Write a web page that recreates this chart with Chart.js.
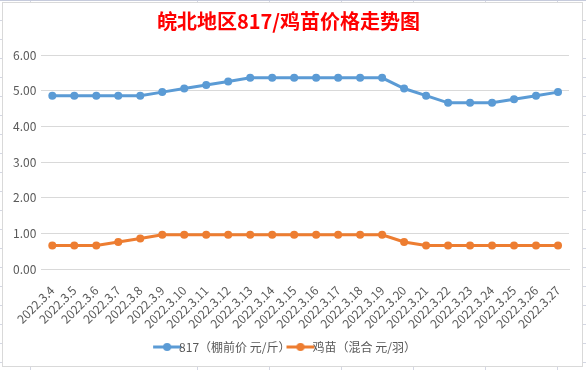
<!DOCTYPE html>
<html lang="zh">

<head>
  <meta charset="UTF-8" />
  <title>皖北地区817/鸡苗价格走势图</title>
  <script src="https://cdn.jsdelivr.net/npm/chart.js"></script>
  <style>
    body {
      margin: 0;
      padding: 0;
      background: #fff;
    }

    /* 表格背景：行线和列线 */
    .sheet {
      position: relative;
      width: 586px;
      height: 370px;
      overflow: hidden;
      background-color: #fff;
      border-top: 1px solid #c6cbdc;
      box-sizing: border-box;
    }

    .sheet .vline {
      position: absolute;
      top: 0;
      width: 1px;
      height: 370px;
      background: #d4d7e3;
    }

    .sheet .hline {
      position: absolute;
      left: 0;
      width: 586px;
      height: 1px;
      background: #d4d7e3;
    }

    .chart-box {
      position: absolute;
      left: 2px;
      top: 1px;
      width: 581px;
      height: 365px;
      background: #fff;
      border: 1px solid #d9d9d9;
      box-sizing: border-box;
    }
  </style>
</head>

<body>
  <div class="sheet" id="sheet">
    <div class="chart-box">
      <canvas id="priceChart" width="579" height="363"></canvas>
    </div>
  </div>

  <script>
    const dates = ['2022.3.4', '2022.3.5', '2022.3.6', '2022.3.7', '2022.3.8', '2022.3.9', '2022.3.10', '2022.3.11',
      '2022.3.12', '2022.3.13', '2022.3.14', '2022.3.15', '2022.3.16', '2022.3.17', '2022.3.18', '2022.3.19',
      '2022.3.20', '2022.3.21', '2022.3.22', '2022.3.23', '2022.3.24', '2022.3.25', '2022.3.26', '2022.3.27'];

    // 817 棚前价（元/斤）
    const price817 = [4.86, 4.86, 4.86, 4.86, 4.86, 4.96, 5.06, 5.16, 5.26, 5.36, 5.36, 5.36, 5.36, 5.36, 5.36, 5.36,
      5.06, 4.86, 4.66, 4.66, 4.66, 4.76, 4.86, 4.96];

    // 鸡苗 混合（元/羽）
    const priceChick = [0.66, 0.66, 0.66, 0.76, 0.86, 0.96, 0.96, 0.96, 0.96, 0.96, 0.96, 0.96, 0.96, 0.96, 0.96, 0.96,
      0.76, 0.66, 0.66, 0.66, 0.66, 0.66, 0.66, 0.66];

    const seriesNames = ['817（棚前价 元/斤）', '鸡苗（混合 元/羽）'];
    const seriesColors = ['#5b9bd5', '#ed7d31'];

    const yTicks = [0, 1, 2, 3, 4, 5, 6];

    // 背景表格线
    const sheet = document.getElementById('sheet');
    [30, 197, 269, 341, 413, 485, 557].forEach(x => {
      const d = document.createElement('div');
      d.className = 'vline';
      d.style.left = x + 'px';
      sheet.insertBefore(d, sheet.firstChild);
    });
    [19, 38, 57, 76, 95, 114, 133, 152, 171, 190, 209, 228, 247, 266, 285, 304, 323, 342, 361].forEach(y => {
      const d = document.createElement('div');
      d.className = 'hline';
      d.style.top = y + 'px';
      sheet.insertBefore(d, sheet.firstChild);
    });

    // 图例里的小图标：线加圆点
    function legendIcon(color) {
      const c = document.createElement('canvas');
      c.width = 30;
      c.height = 10;
      const ctx = c.getContext('2d');
      ctx.strokeStyle = color;
      ctx.lineWidth = 3;
      ctx.beginPath();
      ctx.moveTo(1, 5);
      ctx.lineTo(29, 5);
      ctx.stroke();
      ctx.fillStyle = color;
      ctx.beginPath();
      ctx.arc(15, 5, 4, 0, Math.PI * 2);
      ctx.fill();
      return c;
    }

    const fontFamily = '"Noto Sans CJK SC", "Open Sans", sans-serif';
    const grayText = '#595959';

    new Chart(document.getElementById('priceChart').getContext('2d'), {
      type: 'line',
      data: {
        labels: dates,
        datasets: [price817, priceChick].map((values, i) => ({
          label: seriesNames[i],
          data: values,
          borderColor: seriesColors[i],
          backgroundColor: seriesColors[i],
          borderWidth: 3,
          pointRadius: 4,
          pointHoverRadius: 4,
          pointBorderWidth: 0,
          tension: 0,
        }))
      },
      options: {
        responsive: false,
        animation: false,
        layout: {
          padding: { left: 5, right: 13, top: 0, bottom: 3 }
        },
        plugins: {
          title: {
            display: true,
            text: '皖北地区817/鸡苗价格走势图',
            color: '#ff0000',
            font: { family: fontFamily, size: 20, weight: 'bold' },
            padding: { top: 6, bottom: 22 }
          },
          legend: {
            position: 'bottom',
            labels: {
              color: grayText,
              font: { family: fontFamily, size: 12 },
              usePointStyle: true,
              boxWidth: 30,
              padding: 4,
              generateLabels: chart => chart.data.datasets.map((ds, i) => ({
                text: ds.label,
                pointStyle: legendIcon(seriesColors[i]),
                fillStyle: seriesColors[i],
                strokeStyle: seriesColors[i],
                lineWidth: 0,
                datasetIndex: i,
                fontColor: grayText,
              }))
            }
          },
          tooltip: { enabled: false }
        },
        scales: {
          x: {
            offset: true,
            grid: { display: false },
            border: { display: true, color: '#d9d9d9' },
            ticks: {
              color: grayText,
              font: { family: fontFamily, size: 12 },
              maxRotation: 45,
              minRotation: 45,
              autoSkip: false,
              padding: 6
            }
          },
          y: {
            min: 0,
            max: 6,
            afterBuildTicks: axis => {
              axis.ticks = yTicks.map(v => ({ value: v }));
            },
            grid: { color: '#d9d9d9', drawTicks: false },
            border: { display: false },
            ticks: {
              color: grayText,
              font: { family: fontFamily, size: 12 },
              padding: 5,
              callback: v => Number(v).toFixed(2)
            }
          }
        }
      }
    });
  </script>
</body>

</html>
